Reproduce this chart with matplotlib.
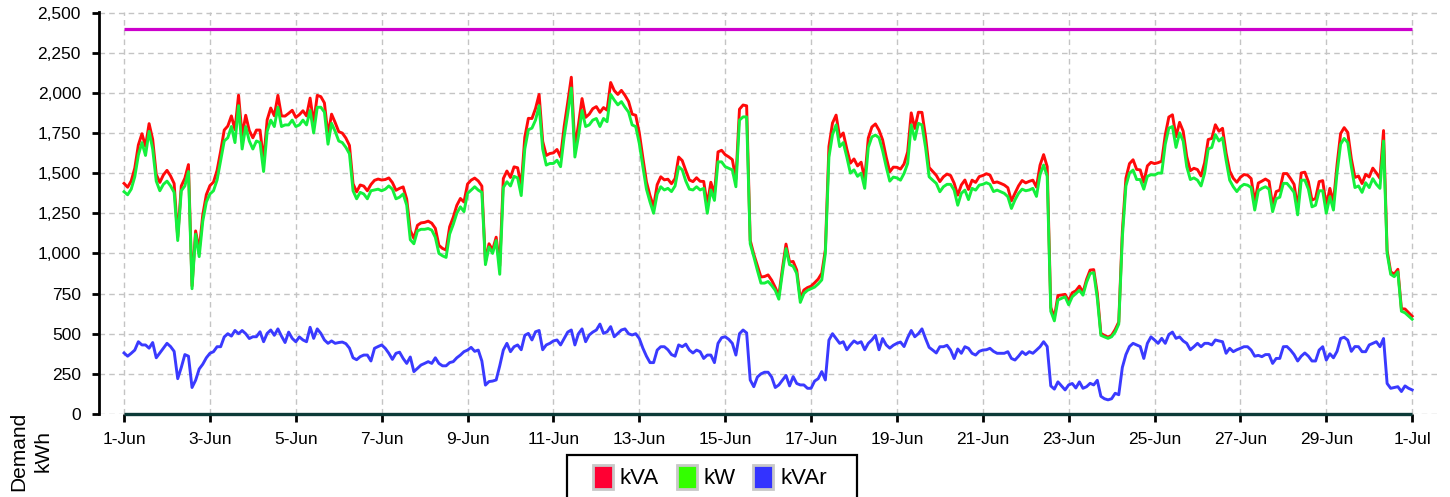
import numpy as np
import pandas as pd
import matplotlib
matplotlib.use("Agg")
import matplotlib.pyplot as plt
from matplotlib.patches import Patch, Rectangle
from matplotlib.ticker import StrMethodFormatter

plt.rcParams["font.family"] = ["Liberation Sans", "DejaVu Sans"]

# ── data: 2-hourly demand readings, June (one row = one day) ─────────────────
START = "2023-06-01"
STEP = "2h"
LIMIT = 2400  # contracted demand

KW = [
    1384, 1365, 1400, 1477, 1612, 1690, 1610, 1760, 1650, 1450, 1390, 1430,
    1450, 1420, 1380, 1080, 1390, 1420, 1510, 780, 1120, 980, 1200, 1320,
    1370, 1390, 1457, 1580, 1700, 1720, 1790, 1690, 1920, 1650, 1790, 1700,
    1650, 1700, 1690, 1510, 1760, 1830, 1790, 1910, 1790, 1800, 1800, 1830,
    1790, 1800, 1830, 1800, 1890, 1750, 1910, 1910, 1880, 1680, 1810, 1760,
    1700, 1690, 1660, 1620, 1390, 1340, 1380, 1370, 1340, 1390, 1395, 1400,
    1390, 1400, 1420, 1400, 1340, 1350, 1370, 1300, 1085, 1060, 1140, 1150,
    1150, 1155, 1145, 1100, 1000, 985, 975, 1120, 1180, 1250, 1290, 1260,
    1374, 1394, 1415, 1394, 1380, 930, 1040, 1000, 1080, 870, 1410, 1446,
    1420, 1480, 1470, 1360, 1650, 1770, 1780, 1830, 1920, 1650, 1550, 1560,
    1560, 1580, 1540, 1726, 1870, 2030, 1600, 1730, 1890, 1790, 1800, 1830,
    1840, 1790, 1840, 1820, 1990, 1955, 1925, 1945, 1910, 1880, 1800, 1790,
    1685, 1540, 1400, 1320, 1250, 1370, 1415, 1395, 1405, 1385, 1420, 1540,
    1520, 1450, 1400, 1395, 1415, 1395, 1405, 1250, 1395, 1330, 1570, 1570,
    1540, 1530, 1520, 1415, 1830, 1850, 1850, 1060, 980, 895, 815, 815,
    825, 800, 770, 715, 880, 1030, 930, 920, 875, 695, 750, 770,
    780, 790, 810, 835, 1000, 1600, 1740, 1800, 1665, 1690, 1600, 1500,
    1520, 1480, 1500, 1405, 1660, 1725, 1737, 1720, 1640, 1540, 1450, 1475,
    1470, 1456, 1498, 1560, 1800, 1710, 1810, 1800, 1660, 1477, 1456, 1436,
    1384, 1415, 1430, 1430, 1394, 1300, 1374, 1394, 1335, 1405, 1394, 1425,
    1430, 1440, 1430, 1385, 1394, 1384, 1374, 1353, 1280, 1333, 1374, 1400,
    1390, 1395, 1405, 1355, 1490, 1550, 1480, 640, 580, 710, 720, 730,
    680, 730, 750, 770, 740, 820, 875, 880, 720, 490, 480, 471,
    481, 510, 560, 1100, 1420, 1500, 1519, 1460, 1460, 1400, 1480, 1490,
    1488, 1500, 1500, 1680, 1780, 1790, 1660, 1750, 1700, 1540, 1460, 1470,
    1456, 1420, 1500, 1650, 1660, 1740, 1700, 1720, 1580, 1456, 1415, 1385,
    1415, 1430, 1425, 1410, 1270, 1390, 1405, 1415, 1400, 1260, 1340, 1350,
    1436, 1436, 1410, 1380, 1240, 1456, 1456, 1400, 1290, 1300, 1390, 1390,
    1250, 1353, 1270, 1500, 1680, 1716, 1690, 1540, 1410, 1420, 1380, 1440,
    1410, 1465, 1430, 1405, 1700, 1000, 870, 855, 885, 640, 630, 610,
    590,
]

KVAR = [
    380, 360, 378, 398, 450, 430, 430, 410, 445, 350, 380, 410,
    440, 420, 390, 220, 290, 370, 360, 165, 210, 280, 310, 350,
    378, 388, 419, 419, 480, 500, 485, 520, 500, 520, 500, 470,
    481, 481, 512, 450, 502, 523, 490, 530, 485, 445, 510, 471,
    450, 480, 461, 450, 540, 471, 530, 502, 461, 440, 455, 440,
    445, 448, 438, 410, 350, 338, 357, 367, 367, 330, 409, 420,
    430, 409, 378, 340, 378, 385, 346, 315, 355, 264, 284, 305,
    315, 326, 315, 350, 315, 300, 300, 320, 326, 350, 367, 388,
    398, 415, 390, 398, 330, 180, 202, 205, 212, 300, 398, 440,
    388, 419, 430, 400, 490, 502, 461, 512, 520, 400, 430, 440,
    455, 461, 430, 470, 510, 523, 430, 500, 530, 450, 492, 510,
    523, 560, 502, 512, 544, 481, 502, 523, 530, 500, 492, 500,
    470, 410, 360, 320, 320, 398, 419, 419, 400, 370, 360, 430,
    419, 435, 398, 380, 398, 388, 346, 367, 367, 320, 440, 475,
    481, 465, 440, 367, 500, 523, 505, 212, 170, 230, 250, 260,
    260, 230, 165, 181, 210, 240, 175, 233, 190, 181, 181, 160,
    160, 205, 220, 264, 212, 460, 500, 470, 440, 450, 400, 430,
    455, 440, 450, 400, 440, 461, 490, 400, 470, 430, 410, 428,
    440, 448, 420, 475, 520, 481, 500, 530, 470, 415, 398, 380,
    419, 419, 428, 398, 345, 405, 378, 419, 409, 378, 367, 390,
    398, 400, 409, 390, 378, 378, 378, 388, 346, 336, 360, 388,
    370, 388, 378, 398, 419, 450, 420, 175, 155, 200, 175, 150,
    181, 190, 162, 200, 160, 170, 191, 181, 210, 110, 95, 88,
    95, 129, 120, 290, 370, 420, 440, 430, 420, 346, 440, 480,
    461, 440, 471, 440, 495, 510, 471, 480, 455, 440, 400, 419,
    440, 419, 440, 440, 430, 461, 455, 450, 378, 409, 388, 400,
    409, 419, 419, 398, 360, 365, 357, 370, 370, 315, 346, 346,
    419, 420, 398, 370, 330, 360, 380, 360, 330, 330, 398, 419,
    336, 375, 350, 390, 470, 478, 460, 390, 420, 419, 388, 388,
    430, 440, 450, 419, 470, 190, 160, 165, 170, 140, 175, 160,
    150,
]

KVA = [
    1436, 1412, 1451, 1531, 1675, 1745, 1667, 1808, 1710, 1492, 1442, 1489,
    1517, 1482, 1435, 1102, 1420, 1468, 1553, 797, 1140, 1020, 1240, 1366,
    1422, 1444, 1517, 1636, 1768, 1793, 1856, 1770, 1985, 1732, 1860, 1765,
    1720, 1768, 1768, 1577, 1832, 1905, 1857, 1984, 1856, 1855, 1872, 1891,
    1847, 1864, 1888, 1856, 1967, 1813, 1984, 1976, 1937, 1738, 1867, 1815,
    1758, 1749, 1718, 1672, 1434, 1383, 1426, 1419, 1390, 1429, 1455, 1463,
    1457, 1460, 1470, 1441, 1393, 1405, 1414, 1338, 1143, 1093, 1175, 1190,
    1193, 1201, 1188, 1156, 1050, 1031, 1021, 1166, 1225, 1299, 1342, 1320,
    1432, 1456, 1469, 1451, 1419, 947, 1060, 1021, 1101, 922, 1466, 1513,
    1473, 1539, 1533, 1419, 1723, 1841, 1840, 1902, 1990, 1698, 1610, 1622,
    1626, 1647, 1600, 1790, 1940, 2097, 1658, 1802, 1964, 1847, 1867, 1901,
    1914, 1878, 1908, 1892, 2064, 2014, 1990, 2015, 1984, 1946, 1867, 1860,
    1751, 1595, 1446, 1359, 1291, 1428, 1477, 1458, 1462, 1434, 1466, 1600,
    1578, 1515, 1457, 1447, 1471, 1449, 1448, 1304, 1443, 1368, 1632, 1642,
    1615, 1601, 1584, 1463, 1898, 1924, 1919, 1081, 995, 925, 853, 856,
    866, 833, 788, 738, 905, 1058, 946, 950, 896, 719, 772, 787,
    796, 817, 840, 877, 1022, 1666, 1812, 1861, 1723, 1750, 1650, 1562,
    1588, 1545, 1568, 1462, 1718, 1787, 1806, 1767, 1707, 1600, 1508, 1537,
    1536, 1525, 1557, 1632, 1875, 1778, 1879, 1878, 1727, 1535, 1510, 1486,
    1447, 1477, 1494, 1485, 1437, 1363, 1426, 1457, 1398, 1456, 1442, 1478,
    1485, 1496, 1488, 1440, 1445, 1436, 1426, 1409, 1327, 1375, 1421, 1454,
    1439, 1449, 1456, 1413, 1549, 1615, 1540, 664, 601, 738, 741, 745,
    704, 755, 767, 796, 757, 838, 896, 899, 751, 502, 489, 479,
    490, 526, 573, 1138, 1468, 1559, 1583, 1523, 1520, 1443, 1545, 1567,
    1559, 1565, 1574, 1738, 1849, 1863, 1727, 1816, 1761, 1603, 1515, 1530,
    1522, 1482, 1565, 1709, 1716, 1801, 1761, 1779, 1625, 1513, 1468, 1443,
    1474, 1491, 1487, 1466, 1321, 1438, 1450, 1463, 1449, 1299, 1385, 1394,
    1497, 1497, 1466, 1430, 1284, 1501, 1506, 1446, 1332, 1342, 1447, 1453,
    1295, 1405, 1318, 1551, 1746, 1783, 1753, 1589, 1473, 1482, 1435, 1492,
    1476, 1531, 1501, 1467, 1765, 1018, 885, 871, 901, 655, 654, 631,
    609,
]

TICK_DATES = ["2023-06-01", "2023-06-03", "2023-06-05", "2023-06-07", "2023-06-09",
              "2023-06-11", "2023-06-13", "2023-06-15", "2023-06-17", "2023-06-19",
              "2023-06-21", "2023-06-23", "2023-06-25", "2023-06-27", "2023-06-29",
              "2023-07-01"]
TICK_LABELS = ["1-Jun", "3-Jun", "5-Jun", "7-Jun", "9-Jun", "11-Jun", "13-Jun",
               "15-Jun", "17-Jun", "19-Jun", "21-Jun", "23-Jun", "25-Jun",
               "27-Jun", "29-Jun", "1-Jul"]

SERIES = ["kVA", "kW", "kVAr"]
LINE_COLORS = {"kVA": "#ff0a0a", "kW": "#14f03c", "kVAr": "#3a3aff"}
PATCH_COLORS = {"kVA": "#ff0033", "kW": "#33ff00", "kVAr": "#3333ff"}

dates = pd.date_range(START, periods=len(KW), freq=STEP)
df = pd.DataFrame({"kVA": KVA, "kW": KW, "kVAr": KVAR}, index=dates)

# ── plot ──────────────────────────────────────────────────────────────────────
fig = plt.figure(figsize=(14.5, 4.97), dpi=100)
ax = fig.add_axes([99 / 1450, 1 - 414 / 497, 1340 / 1450, 402.3 / 497])

ax.grid(True, color="#c4c4c4", linewidth=1.0, linestyle=(0, (4, 3)))
ax.set_axisbelow(True)

ax.hlines(LIMIT, dates[0], dates[-1], color="#cc00cc", linewidth=2.3, zorder=3)
for s in SERIES:
    ax.plot(df.index, df[s], color=LINE_COLORS[s], linewidth=2.1, zorder=4)
ax.hlines(0, dates[0], dates[-1], color="#0c3b38", linewidth=2.4, zorder=5,
          clip_on=False)

ax.set_xlim(dates[0] - pd.Timedelta(hours=14), dates[-1] + pd.Timedelta(hours=15))
ax.set_ylim(0, 2505)
ax.set_yticks(np.arange(0, 2501, 250))
ax.yaxis.set_major_formatter(StrMethodFormatter("{x:,.0f}"))
ax.set_xticks(pd.to_datetime(TICK_DATES))
ax.set_xticklabels(TICK_LABELS)
ax.minorticks_off()

for side in ["top", "right", "bottom"]:
    ax.spines[side].set_visible(False)
ax.spines["left"].set_linewidth(2.0)
ax.spines["left"].set_color("black")
ax.tick_params(axis="y", length=5, width=2, pad=8, labelsize=12.5, colors="black")
ax.tick_params(axis="x", length=6, width=2, pad=7, labelsize=12.5, colors="black")

fig.text(31 / 1450, 1 - 451 / 497, "Demand\nkWh", rotation=90, ha="center",
         va="center", multialignment="center", fontsize=15, linespacing=1.3)

# legend (frame drawn separately, box runs off the bottom edge)
handles = [Patch(facecolor=PATCH_COLORS[s], edgecolor="#c8c8c8", linewidth=2)
           for s in SERIES]
fig.legend(handles, SERIES, loc="center", ncol=3, frameon=False,
           bbox_to_anchor=(710 / 1450, 1 - 477 / 497), fontsize=16,
           handlelength=0.9, handleheight=1.3, handletextpad=0.3,
           columnspacing=0.8, borderpad=0)
fig.patches.append(Rectangle((567 / 1450, -0.05), 290 / 1450, 0.05 + 42 / 497,
                             transform=fig.transFigure, fill=False,
                             edgecolor="black", linewidth=1.6))

fig.savefig("out.png", dpi=100)
